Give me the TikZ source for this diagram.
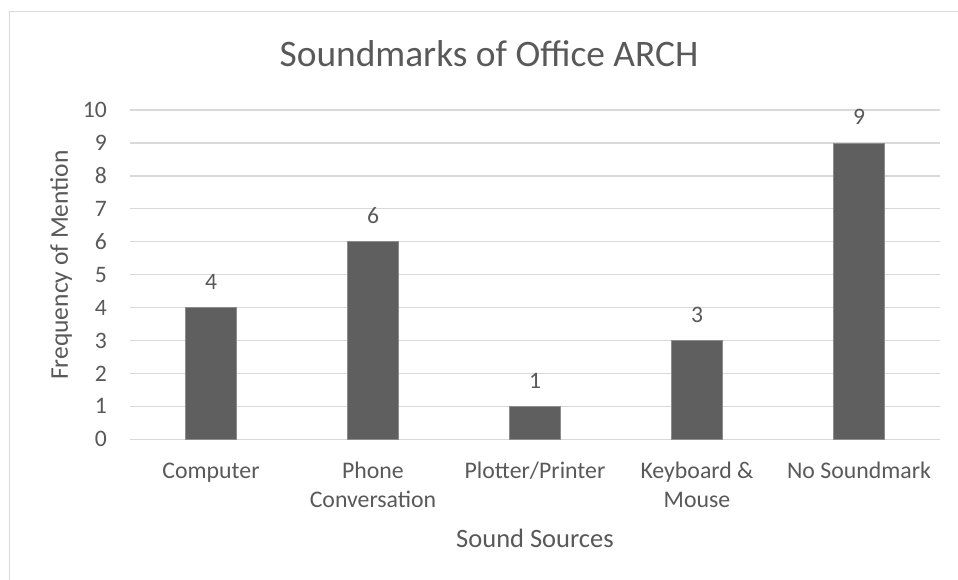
\documentclass[tikz,border=0pt]{standalone}
\usepackage{fontspec}
\setmainfont{Carlito}
\definecolor{txt}{HTML}{595959}
\definecolor{grid}{HTML}{D9D9D9}
\definecolor{barfill}{HTML}{5F5F5F}
\definecolor{baredge}{HTML}{8C8C8C}
\begin{document}
\begin{tikzpicture}[x=1pt,y=-1pt,
  every node/.style={inner sep=0pt,text=txt},
  ticklab/.style={anchor=east,font=\fontsize{23.6}{28}\selectfont},
  vallab/.style={anchor=base,font=\fontsize{23.6}{28}\selectfont},
  catlab/.style={anchor=base,font=\fontsize{23.8}{29}\selectfont},
  axtitle/.style={font=\fontsize{26.5}{32}\selectfont},
  charttitle/.style={anchor=base,font=\fontsize{37.4}{44}\selectfont},
  gridline/.style={draw=grid,line width=1.3pt},
  barbox/.style={fill=barfill,draw=baredge,line width=0.8pt}]
\useasboundingbox (0,0) rectangle (958,580);
\fill[white] (0,0) rectangle (958,580);
\draw[draw=grid,line width=1.2pt] (9.5,600) -- (9.5,11.5) -- (980,11.5);
% gridlines and tick labels
\foreach \k in {0,...,10}{
  \pgfmathsetmacro{\yy}{439.3-32.93*\k}
  \coordinate (gl\k) at (130,\yy);
  \coordinate (gr\k) at (940,\yy);
  \draw[gridline] (gl\k) -- (gr\k);
  \node[ticklab] (t\k) at (107,\yy) {\k};
}
% bars
\foreach \i/\v/\nm in {0/4/comp,1/6/phone,2/1/plot,3/3/key,4/9/nosm}{
  \pgfmathsetmacro{\cx}{211+162*\i}
  \pgfmathsetmacro{\top}{439.3-32.93*\v}
  \draw[barbox] (\cx-25.3,439.3) rectangle (\cx+25.3,\top);
  \node[vallab] (v\nm) at (\cx,\top-18) {\v};
}
% category labels
\node[catlab] (c1) at (211,478) {Computer};
\node[catlab] (c2) at (373,478) {\begin{tabular}[t]{@{}c@{}}Phone\\Conversation\end{tabular}};
\node[catlab] (c3) at (535,478) {Plotter/Printer};
\node[catlab] (c4) at (697,478) {\begin{tabular}[t]{@{}c@{}}Keyboard \&\\Mouse\end{tabular}};
\node[catlab] (c5) at (859,478) {No Soundmark};
% axis titles
\node[axtitle,anchor=base] (xt) at (535,547) {Sound Sources};
\node[axtitle,rotate=90,font=\fontsize{25.5}{31}\selectfont] (yt) at (61,265) {Frequency of Mention};
% chart title
\node[charttitle] (title) at (489,66.7) {Soundmarks of Office ARCH};
\end{tikzpicture}
\end{document}
